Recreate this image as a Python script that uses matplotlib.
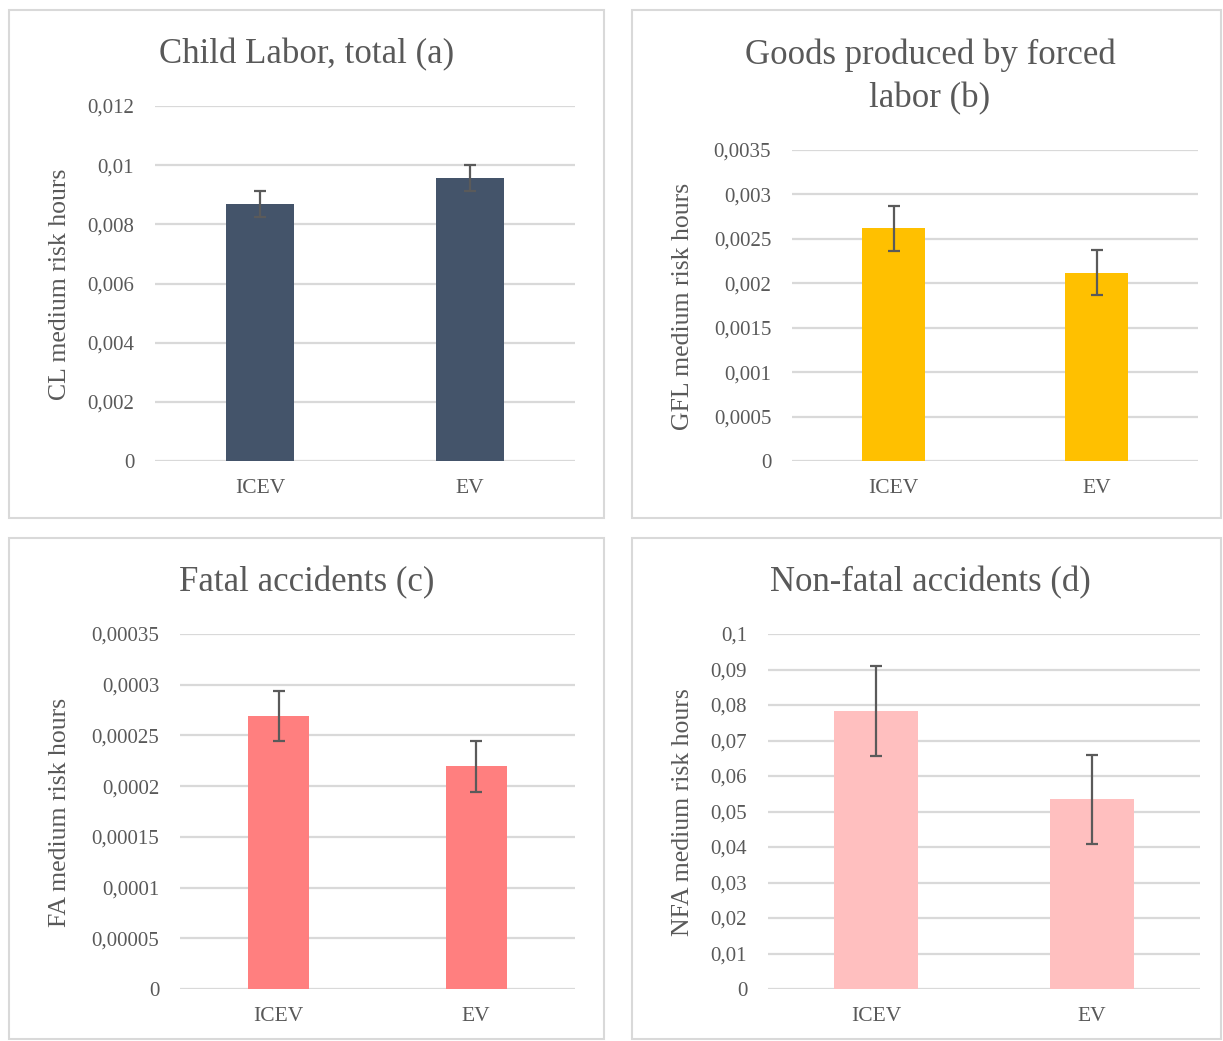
import matplotlib
matplotlib.use("Agg")
import matplotlib.pyplot as plt
from matplotlib.patches import Rectangle

plt.rcParams['font.family'] = ['Liberation Serif', 'DejaVu Serif']

categories = ["ICEV", "EV"]

# Panel (a) Child Labor
cl_values = [0.00869, 0.00956]
cl_errors = [0.00044, 0.00044]
cl_ticks = [0, 0.002, 0.004, 0.006, 0.008, 0.010, 0.012]
cl_ticklabels = ["0", "0,002", "0,004", "0,006", "0,008", "0,01", "0,012"]

# Panel (b) Goods produced by forced labor
gfl_values = [0.00262, 0.00212]
gfl_errors = [0.000255, 0.000253]
gfl_ticks = [0, 0.0005, 0.001, 0.0015, 0.002, 0.0025, 0.003, 0.0035]
gfl_ticklabels = ["0", "0,0005", "0,001", "0,0015", "0,002", "0,0025", "0,003", "0,0035"]

# Panel (c) Fatal accidents
fa_values = [0.000269, 0.0002196]
fa_errors = [0.0000247, 0.0000251]
fa_ticks = [0, 0.00005, 0.0001, 0.00015, 0.0002, 0.00025, 0.0003, 0.00035]
fa_ticklabels = ["0", "0,00005", "0,0001", "0,00015", "0,0002", "0,00025", "0,0003", "0,00035"]

# Panel (d) Non-fatal accidents
nfa_values = [0.0783, 0.0534]
nfa_errors = [0.0126, 0.0125]
nfa_ticks = [0, 0.01, 0.02, 0.03, 0.04, 0.05, 0.06, 0.07, 0.08, 0.09, 0.1]
nfa_ticklabels = ["0", "0,01", "0,02", "0,03", "0,04", "0,05", "0,06", "0,07", "0,08", "0,09", "0,1"]

W, H = 1223, 1041
fig = plt.figure(figsize=(W / 100, H / 100), dpi=100)
fig.patch.set_facecolor("white")

TEXT = "#595959"
GRID = "#D9D9D9"

def fx(x):
    return x / W

def fy(y):
    return 1 - y / H

# panel borders
for (x0, y0, x1, y1) in [(9, 10, 604, 518), (632, 10, 1221, 518),
                         (9, 538, 604, 1039), (632, 538, 1221, 1039)]:
    fig.patches.append(Rectangle((fx(x0), fy(y1)), fx(x1 - x0), (y1 - y0) / H,
                                 transform=fig.transFigure, fill=False,
                                 edgecolor=GRID, lw=1.5))

panels = [
    dict(vals=cl_values, errs=cl_errors, ticks=cl_ticks, tl=cl_ticklabels,
         color="#44546A", box=(155, 106, 575, 461), width=0.32,
         title="Child Labor, total (a)", title_xy=(307, 55),
         ylabel="CL medium risk hours", ylabel_xy=(60, 284)),
    dict(vals=gfl_values, errs=gfl_errors, ticks=gfl_ticks, tl=gfl_ticklabels,
         color="#FFC000", box=(792, 150, 1198, 461), width=0.31,
         title="Goods produced by forced\nlabor (b)", title_xy=(930, 77),
         ylabel="GFL medium risk hours", ylabel_xy=(683, 306)),
    dict(vals=fa_values, errs=fa_errors, ticks=fa_ticks, tl=fa_ticklabels,
         color="#FF7F7F", box=(180, 634, 575, 989), width=0.31,
         title="Fatal accidents (c)", title_xy=(307, 583),
         ylabel="FA medium risk hours", ylabel_xy=(60, 812)),
    dict(vals=nfa_values, errs=nfa_errors, ticks=nfa_ticks, tl=nfa_ticklabels,
         color="#FFBFBF", box=(768, 634, 1200, 989), width=0.39,
         title="Non-fatal accidents (d)", title_xy=(930, 583),
         ylabel="NFA medium risk hours", ylabel_xy=(683, 812)),
]

for p in panels:
    x0, y0, x1, y1 = p["box"]
    ax = fig.add_axes([fx(x0), fy(y1), fx(x1 - x0), (y1 - y0) / H])
    pos = list(range(len(categories)))
    ax.bar(pos, p["vals"], width=p["width"], color=p["color"], zorder=2)
    ax.errorbar(pos, p["vals"], yerr=p["errs"], fmt="none", ecolor="#5A5A5A",
                elinewidth=1.6, capsize=4.5, capthick=1.6, zorder=3)
    ax.set_xlim(-0.5, len(categories) - 0.5)
    ax.set_ylim(p["ticks"][0], p["ticks"][-1])
    ax.set_yticks(p["ticks"])
    ax.set_yticklabels(p["tl"])
    ax.set_xticks(pos)
    ax.set_xticklabels(categories)
    for s in ax.spines.values():
        s.set_visible(False)
    ax.yaxis.grid(True, color=GRID, lw=1.6, zorder=0)
    ax.set_axisbelow(True)
    ax.tick_params(axis="both", length=0, colors=TEXT)
    ax.tick_params(axis="y", pad=15, labelsize=15)
    ax.tick_params(axis="x", pad=13, labelsize=15.5)
    for lbl in ax.get_yticklabels() + ax.get_xticklabels():
        lbl.set_color(TEXT)
    tx, ty = p["title_xy"]
    fig.text(fx(tx), fy(ty), p["title"], ha="center", va="center",
             fontsize=25, color=TEXT, linespacing=1.42)
    lx, ly = p["ylabel_xy"]
    fig.text(fx(lx), fy(ly), p["ylabel"], ha="center", va="center",
             rotation=90, fontsize=18.5, color=TEXT)

fig.savefig("out.png", dpi=100, facecolor="white")
